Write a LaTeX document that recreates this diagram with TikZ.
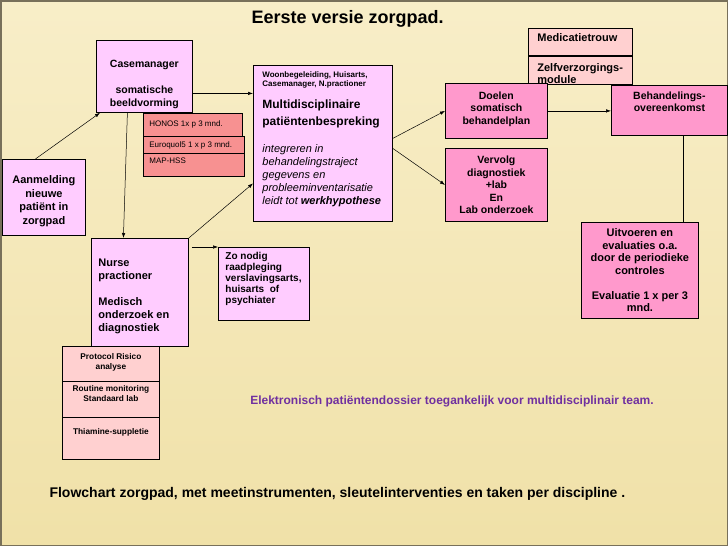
\documentclass[tikz,border=0pt]{standalone}
\usepackage{fontspec}
\setmainfont{Liberation Sans}
\usepackage{xcolor}
\usepackage{tikz}
\usetikzlibrary{arrows.meta}
\definecolor{bgcream}{RGB}{240,225,168}
\definecolor{bglight}{RGB}{248,238,200}
\definecolor{framegray}{RGB}{120,112,90}
\definecolor{lilac}{RGB}{255,204,255}
\definecolor{rosepink}{RGB}{255,153,204}
\definecolor{salmon}{RGB}{247,145,145}
\definecolor{palerose}{RGB}{255,208,208}
\definecolor{dossierpurple}{RGB}{112,48,160}

\begin{document}
\begin{tikzpicture}[x=1pt, y=-1pt,
    lilacbox/.style={draw=black, line width=0.8pt, fill=lilac, inner sep=0pt, anchor=north west},
    rosebox/.style={lilacbox, fill=rosepink},
    salmonbox/.style={lilacbox, fill=salmon},
    palebox/.style={lilacbox, fill=palerose},
    arr/.style={-{Latex[length=5pt, width=3.5pt]}, line width=0.5pt}]
    \useasboundingbox (0,0) rectangle (728,546);
    \shade[top color=bglight, bottom color=bgcream] (0,0) rectangle (728,546);
    \draw[framegray, line width=1.5pt] (0.75,0.75) rectangle (727.25,545.25);

    \node[anchor=west, font=\fontsize{18}{21}\selectfont\bfseries] (title) at (248,19) {Eerste versie zorgpad.};

    \node[lilacbox] (aanmelding) at (2,159) {\begin{minipage}[c][76pt][c]{83pt}\centering\fontsize{11}{13.5}\selectfont\bfseries
        \vspace*{8pt}Aanmelding\\nieuwe\\patiënt in\\zorgpad
    \end{minipage}};
    \node[lilacbox] (casemgr) at (96,40) {\begin{minipage}[c][72pt][c]{96pt}\centering\fontsize{10.5}{13}\selectfont\bfseries
        \vspace*{16pt}Casemanager\\[13pt]somatische\\beeldvorming
    \end{minipage}};
    \node[salmonbox, inner xsep=6pt] (honos) at (143,113) {\begin{minipage}[c][23pt][c]{87pt}\raggedright\fontsize{8}{9}\selectfont
        HONOS 1x p 3 mnd.
    \end{minipage}};
    \node[salmonbox, inner xsep=6pt] (euroquol) at (143,136) {\begin{minipage}[c][17pt][c]{89pt}\raggedright\fontsize{8}{9}\selectfont
        \vspace*{2pt}Euroquol5 1 x p 3 mnd.
    \end{minipage}};
    \node[salmonbox, inner xsep=6pt] (maphss) at (143,153) {\begin{minipage}[c][23pt][t]{89pt}\raggedright\fontsize{8}{9}\selectfont
        \vspace*{5pt}MAP-HSS
    \end{minipage}};

    \node[lilacbox, inner xsep=9pt] (mdo) at (253,65) {\begin{minipage}[c][156pt][t]{121pt}\raggedright
        \vspace*{6pt}{\fontsize{8}{9}\selectfont\bfseries Woonbegeleiding, Huisarts,\\Casemanager, N.practioner\par}
        \vspace{5pt}{\fontsize{12}{17}\selectfont\bfseries Multidisciplinaire\\patiëntenbespreking\par}
        \vspace{14pt}{\fontsize{11}{13}\selectfont\itshape integreren in\\behandelingstraject\\gegevens en\\probleeminventarisatie\\leidt tot \textbf{werkhypothese}\par}
    \end{minipage}};

    \node[palebox, inner xsep=9pt] (medtrouw) at (528,28) {\begin{minipage}[c][27pt][t]{86pt}\raggedright\fontsize{11}{12}\selectfont\bfseries
        \vspace*{5pt}Medicatietrouw
    \end{minipage}};
    \node[palebox, inner xsep=9pt] (zelfzorg) at (528,56) {\begin{minipage}[c][28pt][t]{86pt}\raggedright\fontsize{11}{12}\selectfont\bfseries
        \vspace*{7pt}Zelfverzorgings-\\module
    \end{minipage}};
    \node[rosebox] (doelen) at (445,83) {\begin{minipage}[c][55pt][t]{102pt}\centering\fontsize{10.5}{12.5}\selectfont\bfseries
        \vspace*{8pt}Doelen\\somatisch\\behandelplan
    \end{minipage}};
    \node[rosebox] (vervolg) at (445,148) {\begin{minipage}[c][73pt][c]{102pt}\centering\fontsize{10.5}{12.5}\selectfont\bfseries
        Vervolg\\diagnostiek\\+lab\\En\\Lab onderzoek
    \end{minipage}};
    \node[rosebox] (behovk) at (611,85) {\begin{minipage}[c][50pt][t]{116pt}\centering\fontsize{10.5}{12.5}\selectfont\bfseries
        \vspace*{6pt}Behandelings-\\overeenkomst
    \end{minipage}};
    \node[rosebox] (uitvoeren) at (581,222) {\begin{minipage}[c][96pt][c]{117pt}\centering\fontsize{11}{12.5}\selectfont\bfseries
        Uitvoeren en\\evaluaties o.a.\\door de periodieke\\controles\\[12.5pt]Evaluatie 1 x per 3\\mnd.
    \end{minipage}};

    \node[lilacbox, inner xsep=7pt] (nurse) at (91,238) {\begin{minipage}[c][108pt][c]{83pt}\raggedright\fontsize{11}{13}\selectfont\bfseries
        \vspace*{8pt}Nurse\\practioner\\[13pt]Medisch\\onderzoek en\\diagnostiek
    \end{minipage}};
    \node[lilacbox, inner xsep=7pt] (zonodig) at (218,247) {\begin{minipage}[c][73pt][t]{77pt}\raggedright\fontsize{10}{11}\selectfont\bfseries
        \vspace*{5pt}Zo nodig\\raadpleging\\verslavingsarts,\\huisarts\ \ of\\psychiater
    \end{minipage}};
    \node[palebox] (protocol) at (62,346) {\begin{minipage}[c][35pt][t]{97pt}\centering\fontsize{8.3}{10}\selectfont\bfseries
        \vspace*{7pt}Protocol Risico\\analyse
    \end{minipage}};
    \node[palebox] (routine) at (62,381) {\begin{minipage}[c][36pt][t]{97pt}\centering\fontsize{8.3}{10}\selectfont\bfseries
        \vspace*{4pt}Routine monitoring\\Standaard lab
    \end{minipage}};
    \node[palebox] (thiamine) at (62,417) {\begin{minipage}[c][42pt][t]{97pt}\centering\fontsize{8.3}{10}\selectfont\bfseries
        \vspace*{11pt}Thiamine-suppletie
    \end{minipage}};

    \draw[arr] ([xshift=-8.5pt]aanmelding.north) -- ([xshift=4pt]casemgr.south west);
    \draw[arr] ([yshift=-17pt]casemgr.east) coordinate (cmout) -- (cmout -| mdo.west);
    \draw[arr] ([xshift=-17pt]casemgr.south) -- ([xshift=-16.5pt]nurse.north);
    \draw[arr] (nurse.north east) -- ([yshift=-40pt]mdo.west);
    \draw[arr] ([shift={(3pt,-9pt)}]nurse.north east) coordinate (npout) -- (npout -| zonodig.west);
    \draw[arr] ([yshift=5pt]mdo.east) -- (doelen.west);
    \draw[arr] ([yshift=-5pt]mdo.east) -- (vervolg.west);
    \draw[arr] (doelen.east) -- (doelen.east -| behovk.west);
    \draw[line width=0.5pt] ([xshift=14pt]behovk.south) coordinate (bkout) -- (bkout |- uitvoeren.north);

    \node[font=\fontsize{12}{14}\selectfont\bfseries, text=dossierpurple] (dossier) at (452,401) {Elektronisch patiëntendossier toegankelijk voor multidisciplinair team.};
    \node[anchor=west, font=\fontsize{14}{16}\selectfont\bfseries] (footer) at (46,494) {Flowchart zorgpad, met meetinstrumenten, sleutelinterventies en taken per discipline .};
\end{tikzpicture}
\end{document}
